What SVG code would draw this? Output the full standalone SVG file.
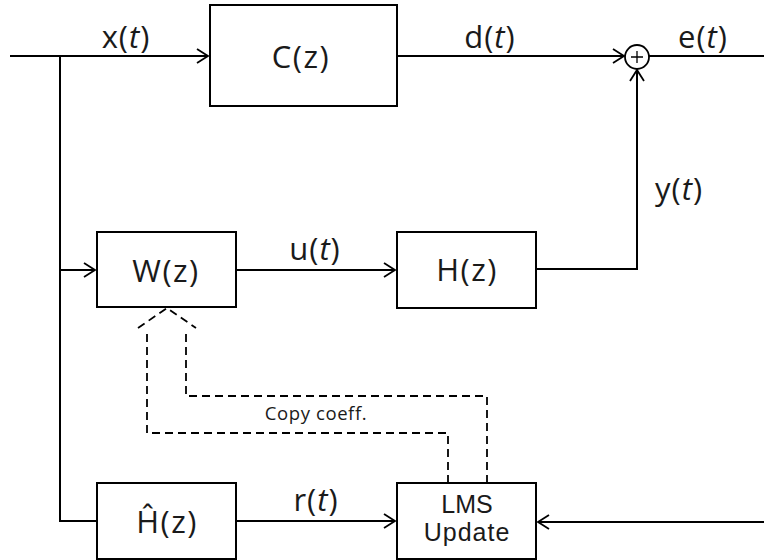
<svg xmlns="http://www.w3.org/2000/svg" width="764" height="560" viewBox="0 0 764 560">
<defs>
<marker id="arr" markerUnits="userSpaceOnUse" markerWidth="14" markerHeight="18" refX="12" refY="8" orient="auto">
<path d="M1,1 L12,8 L1,15" fill="none" stroke="#000" stroke-width="1.8"/>
</marker>
<style>
.box{fill:#fff;stroke:#000;stroke-width:2}
.ln{fill:none;stroke:#000;stroke-width:2}
.ds{fill:none;stroke:#000;stroke-width:1.8;stroke-dasharray:8,5}
.t{font-family:"Open Sans","Noto Sans",sans-serif;fill:#1a1a1a;text-anchor:middle}
.lb{font-size:31px;letter-spacing:1px}
.bx{font-size:31px;letter-spacing:1.5px}
.lms{font-family:"Liberation Sans",Arial,sans-serif;font-size:25px;fill:#1a1a1a;text-anchor:middle}
.it{font-style:italic}
</style>
</defs>
<rect width="764" height="560" fill="#fff"/>
<g id="connectors">
<path class="ln" d="M10,56 H208" marker-end="url(#arr)"/>
<path class="ln" d="M60,56 V521 H97"/>
<path class="ln" d="M60,270 H95" marker-end="url(#arr)"/>
<path class="ln" d="M397,56 H624" marker-end="url(#arr)"/>
<path class="ln" d="M648,56 H764"/>
<path class="ln" d="M536,269 H637 V70" marker-end="url(#arr)"/>
<path class="ln" d="M236,270 H395" marker-end="url(#arr)"/>
<path class="ln" d="M236,521 H395" marker-end="url(#arr)"/>
<path class="ln" d="M764,522 H538" marker-end="url(#arr)"/>
<path class="ds" d="M487,483 V396 H186 V330"/>
<path class="ds" d="M448,483 V433 H147 V330"/>
<path class="ds" d="M138,328 L167,308 L196,328"/>
</g>
<g id="sum">
<circle cx="637" cy="57" r="12" fill="#fff" stroke="#000" stroke-width="1.8"/>
<path d="M637,51 V63 M631,57 H643" stroke="#000" stroke-width="1.3"/>
</g>
<g id="C"><rect class="box" x="210" y="5" width="187" height="101"/><text class="t bx" x="301" y="68">C(z)</text></g>
<g id="W"><rect class="box" x="97" y="232" width="139" height="75"/><text class="t bx" x="166" y="282">W(z)</text></g>
<g id="H"><rect class="box" x="397" y="232" width="139" height="76"/><text class="t bx" x="467" y="281">H(z)</text></g>
<g id="Hhat"><rect class="box" x="97" y="483" width="139" height="76"/><text class="t bx" x="167" y="533">Ĥ(z)</text></g>
<g id="LMS"><rect class="box" x="397" y="483" width="139" height="76"/><text class="lms" x="467" y="513">LMS</text><text class="lms" style="letter-spacing:1px" x="467" y="541">Update</text></g>
<g id="labels">
<text class="t lb" x="126" y="48">x(<tspan class="it">t</tspan>)</text>
<text class="t lb" x="490" y="48">d(<tspan class="it">t</tspan>)</text>
<text class="t lb" x="703" y="48">e(<tspan class="it">t</tspan>)</text>
<text class="t lb" x="679" y="200">y(<tspan class="it">t</tspan>)</text>
<text class="t lb" x="315" y="260">u(<tspan class="it">t</tspan>)</text>
<text class="t lb" x="316" y="511">r(<tspan class="it">t</tspan>)</text>
<text class="t" style="font-size:18.5px;letter-spacing:0.6px" x="316" y="420">Copy coeff.</text>
</g>
</svg>
